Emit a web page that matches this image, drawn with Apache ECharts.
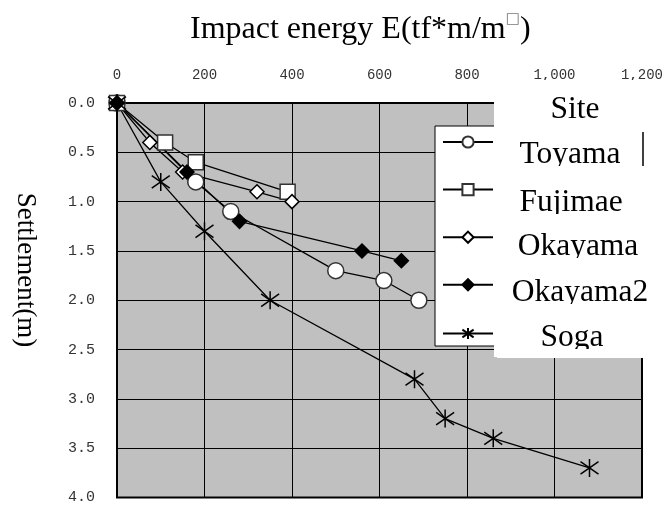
<!DOCTYPE html>
<html>
<head>
    <meta charset="UTF-8">
    <title></title>
    <style>
        html, body { margin: 0; padding: 0; background: #fff; }
    </style>
</head>
<body>
<div id="main" style="width: 666px;height:505px;"></div>
<script type="text/javascript" src="https://cdn.jsdelivr.net/npm/echarts@6/dist/echarts.min.js"></script>
<script type="text/javascript">
    // values: impact energy (x) / settlement (y)
    var siteNames = ['Toyama', 'Fujimae', 'Okayama', 'Okayama2', 'Soga'];

    var toyamaE = [0, 180, 260, 500, 610, 690];
    var toyamaS = [0, 0.8, 1.1, 1.7, 1.8, 2.0];

    var fujimaeE = [0, 110, 180, 390];
    var fujimaeS = [0, 0.4, 0.6, 0.9];

    var okayamaE = [0, 75, 150, 320, 400];
    var okayamaS = [0, 0.4, 0.7, 0.9, 1.0];

    var okayama2E = [0, 160, 280, 560, 650];
    var okayama2S = [0, 0.7, 1.2, 1.5, 1.6];

    var sogaE = [0, 100, 200, 350, 680, 750, 860, 1080];
    var sogaS = [0, 0.8, 1.3, 2.0, 2.8, 3.2, 3.4, 3.7];

    var xTicks = [0, 200, 400, 600, 800, 1000, 1200];
    var yTicks = [0, 0.5, 1.0, 1.5, 2.0, 2.5, 3.0, 3.5, 4.0];

    function pairs(xs, ys) {
        var out = [];
        for (var i = 0; i < xs.length; i++) {
            out.push([xs[i], ys[i]]);
        }
        return out;
    }

    // asterisk marker (vertical bar + X), stroke only
    var starPath = 'path://M0,-10L0,10M-9,-7L9,7M-9,7L9,-7';

    function lineSeries(name, xs, ys, symbol, size, fill, border) {
        return {
            name: name,
            type: 'line',
            data: pairs(xs, ys),
            symbol: symbol,
            symbolSize: size,
            showAllSymbol: true,
            lineStyle: { color: '#000', width: 1.3 },
            itemStyle: { color: fill, borderColor: border, borderWidth: 1.5, opacity: 1 },
            emphasis: { disabled: true },
            z: 3
        };
    }

    // legend names are drawn next to the icons, sitting a bit low and
    // cut at the baseline like in the original sheet
    var nameX = [570, 571, 578, 580, 572];
    var nameBase = [165, 213, 257, 303, 348];

    var graphics = [
        {
            type: 'rect',
            z: 10,
            shape: { x: 435, y: 126, width: 200, height: 220 },
            style: { fill: '#fff', stroke: '#000', lineWidth: 1 }
        },
        {
            type: 'rect',
            z: 11,
            shape: { x: 494, y: 80, width: 172, height: 277 },
            style: { fill: '#fff', stroke: null }
        },
        {
            type: 'line',
            z: 12,
            shape: { x1: 643, y1: 132, x2: 643, y2: 172 },
            style: { stroke: '#000', lineWidth: 1.5 }
        },
        {
            type: 'text',
            z: 12,
            x: 575,
            y: 109.5,
            style: {
                text: 'Site',
                fontFamily: 'Liberation Serif',
                fontSize: 31.5,
                fill: '#000',
                textAlign: 'center',
                textVerticalAlign: 'middle'
            }
        },
        {
            type: 'text',
            z: 12,
            x: 25,
            y: 270,
            rotation: -Math.PI / 2,
            style: {
                text: 'Settlement(m)',
                fontFamily: 'Liberation Serif',
                fontSize: 27,
                fill: '#000',
                textAlign: 'center',
                textVerticalAlign: 'middle'
            }
        }
    ];
    for (var k = 0; k < siteNames.length; k++) {
        graphics.push({
            type: 'text',
            z: 12,
            x: nameX[k],
            y: nameBase[k] - 10.6,
            style: {
                text: siteNames[k],
                fontFamily: 'Liberation Serif',
                fontSize: 31.5,
                fill: '#000',
                textAlign: 'center',
                textVerticalAlign: 'middle'
            }
        });
        graphics.push({
            type: 'rect',
            z: 13,
            shape: { x: 497, y: nameBase[k] + 1, width: 169, height: 9 },
            style: { fill: '#fff', stroke: null }
        });
    }

    var myChart = echarts.init(document.getElementById('main'));

    var option = {
        animation: false,
        backgroundColor: '#fff',
        title: {
            text: 'Impact energy E(tf*m/m{sup|□})',
            left: 190,
            top: 12,
            padding: 0,
            textStyle: {
                fontFamily: 'Liberation Serif',
                fontSize: 32,
                fontWeight: 'normal',
                color: '#000',
                lineHeight: 36,
                rich: {
                    sup: {
                        fontFamily: 'DejaVu Sans',
                        fontSize: 15,
                        color: '#777',
                        verticalAlign: 'top',
                        lineHeight: 36
                    }
                }
            }
        },
        grid: {
            left: 117,
            top: 103,
            width: 526,
            height: 395,
            show: true,
            backgroundColor: '#c0c0c0',
            borderColor: '#000',
            borderWidth: 2
        },
        xAxis: {
            type: 'value',
            position: 'top',
            min: xTicks[0],
            max: xTicks[xTicks.length - 1],
            interval: 200,
            axisLine: { show: false },
            axisTick: { show: false },
            axisLabel: {
                margin: 21,
                fontFamily: 'Liberation Mono',
                fontSize: 14,
                color: '#333',
                formatter: function (v) {
                    return v >= 1000 ? Math.floor(v / 1000) + ',' + String(v % 1000).padStart(3, '0') : String(v);
                }
            },
            splitLine: { show: true, lineStyle: { color: '#000', width: 1 } }
        },
        yAxis: {
            type: 'value',
            inverse: true,
            min: yTicks[0],
            max: yTicks[yTicks.length - 1],
            interval: 0.5,
            axisLine: { show: false },
            axisTick: { show: false },
            axisLabel: {
                margin: 22,
                fontFamily: 'Liberation Mono',
                fontSize: 15,
                color: '#333',
                formatter: function (v) { return v.toFixed(1); }
            },
            splitLine: { show: true, lineStyle: { color: '#000', width: 1 } }
        },
        legend: {
            orient: 'vertical',
            left: 442,
            top: 135,
            padding: 0,
            itemWidth: 50,
            itemHeight: 14,
            itemGap: 34,
            selectedMode: false,
            z: 20,
            data: siteNames,
            formatter: function () { return ''; },
            textStyle: { fontSize: 1, padding: 0 }
        },
        graphic: graphics,
        series: [
            lineSeries('Toyama', toyamaE, toyamaS, 'circle', 16, '#fff', '#333'),
            lineSeries('Fujimae', fujimaeE, fujimaeS, 'rect', 15, '#fff', '#333'),
            lineSeries('Okayama', okayamaE, okayamaS, 'diamond', 14, '#fff', '#000'),
            lineSeries('Okayama2', okayama2E, okayama2S, 'diamond', 14, '#000', '#000'),
            lineSeries('Soga', sogaE, sogaS, starPath, 18, 'none', '#000')
        ]
    };

    myChart.setOption(option);
</script>
</body>
</html>
